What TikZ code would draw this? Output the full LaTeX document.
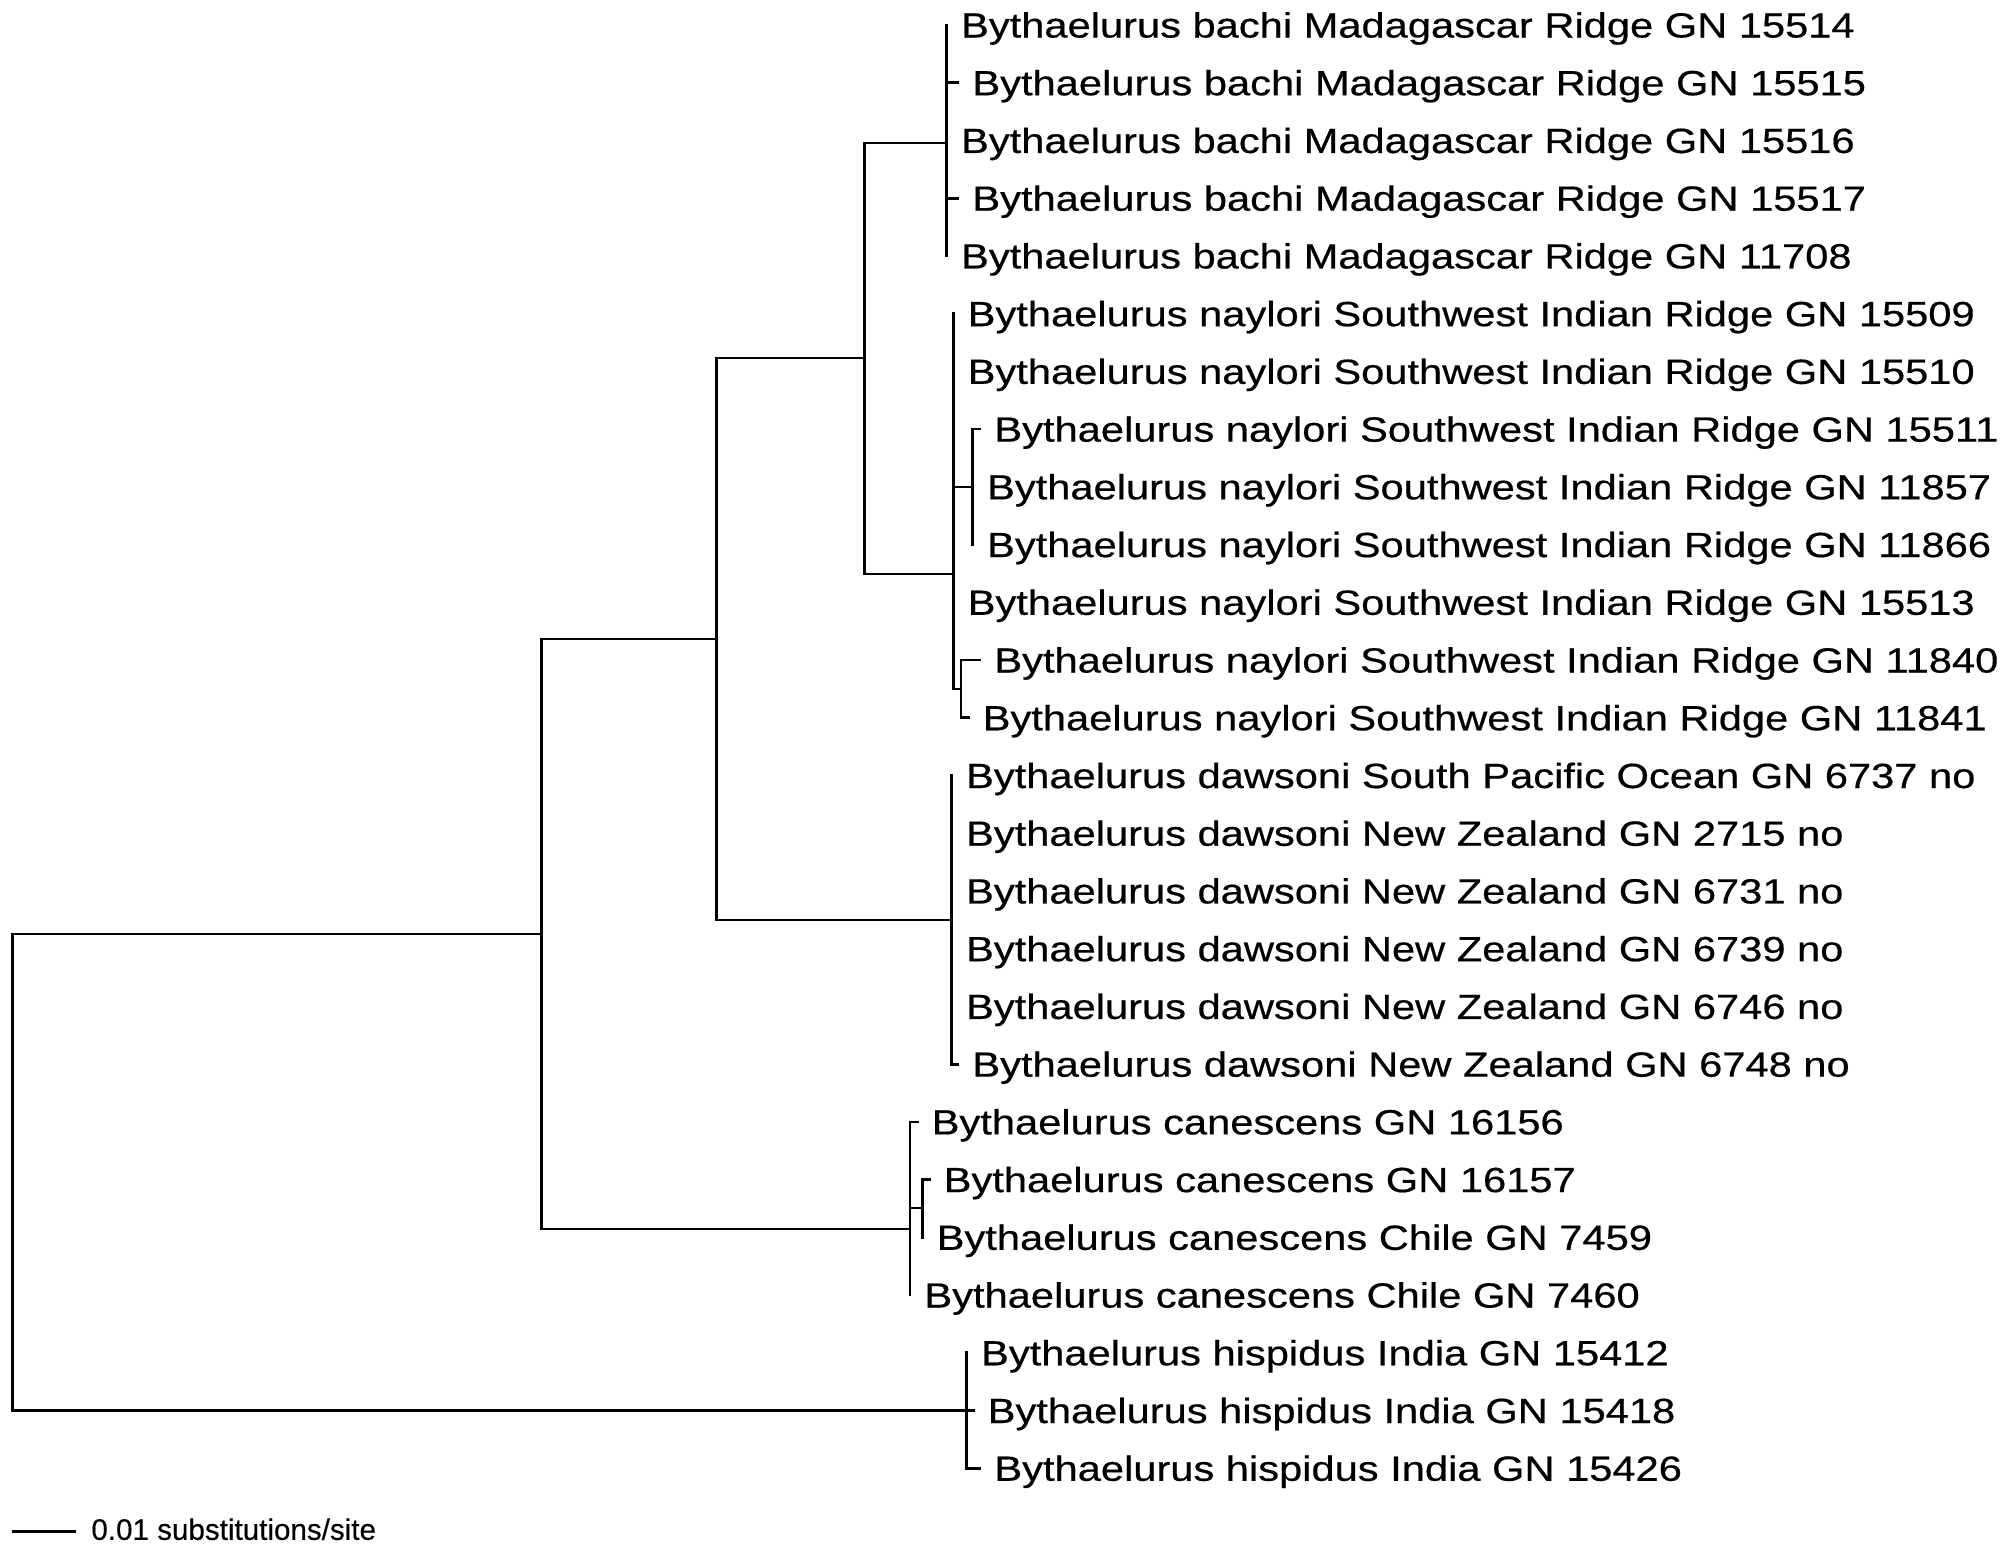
\documentclass[tikz,border=0pt]{standalone}
\usepackage{fontspec}
\newfontfamily\labfam{Liberation Sans}[FakeStretch=1.19,FakeBold=0.5]
\newfontfamily\barfam{Liberation Sans}[FakeBold=0.4]
\begin{document}
\begin{tikzpicture}[x=0.5pt,y=-0.5pt,
  branch/.style={line width=1.35pt,line cap=rect,line join=miter,black},
  tiplabel/.style={anchor=base west,inner sep=0pt,xshift=7pt,yshift=-6.25pt,
    font=\labfam\fontsize{17.5pt}{20pt}\selectfont},
  barlabel/.style={anchor=base west,inner sep=0pt,xshift=7.5pt,yshift=-4.05pt,
    font=\barfam\fontsize{14.8pt}{17pt}\selectfont}]
\useasboundingbox[fill=white] (0,0) rectangle (2008,1549);
% internal nodes
\coordinate (root) at (12.7,934);
\coordinate (A) at (541.7,934);
\coordinate (B) at (716.7,639);
\coordinate (C) at (864.5,358);
\coordinate (Ba) at (946.7,143);
\coordinate (Na) at (953.3,574);
\coordinate (ns1) at (972.7,{25+57.73*8});
\coordinate (ns2) at (961,689);
\coordinate (Da) at (951.7,920);
\coordinate (Ca) at (910,1229);
\coordinate (cs) at (922.3,1208);
\coordinate (Hi) at (966.7,{25+57.73*24});
% tips
\coordinate (t0) at (946.7,{25+57.73*0});
\coordinate (t1) at (958,{25+57.73*1});
\coordinate (t2) at (946.7,{25+57.73*2});
\coordinate (t3) at (958,{25+57.73*3});
\coordinate (t4) at (946.7,{25+57.73*4});
\coordinate (t5) at (953.3,{25+57.73*5});
\coordinate (t6) at (953.3,{25+57.73*6});
\coordinate (t7) at (980,{25+57.73*7});
\coordinate (t8) at (972.7,{25+57.73*8});
\coordinate (t9) at (972.7,{25+57.73*9});
\coordinate (t10) at (953.3,{25+57.73*10});
\coordinate (t11) at (980,{25+57.73*11});
\coordinate (t12) at (968.3,{25+57.73*12});
\coordinate (t13) at (951.7,{25+57.73*13});
\coordinate (t14) at (951.7,{25+57.73*14});
\coordinate (t15) at (951.7,{25+57.73*15});
\coordinate (t16) at (951.7,{25+57.73*16});
\coordinate (t17) at (951.7,{25+57.73*17});
\coordinate (t18) at (958,{25+57.73*18});
\coordinate (t19) at (917.3,{25+57.73*19});
\coordinate (t20) at (929.3,{25+57.73*20});
\coordinate (t21) at (922.3,{25+57.73*21});
\coordinate (t22) at (910,{25+57.73*22});
\coordinate (t23) at (966.7,{25+57.73*23});
\coordinate (t24) at (973.3,{25+57.73*24});
\coordinate (t25) at (980,{25+57.73*25});
% branches
\draw[branch] (root) |- (A);
\draw[branch] (root) |- (Hi);
\draw[branch] (A) |- (B);
\draw[branch] (A) |- (Ca);
\draw[branch] (B) |- (C);
\draw[branch] (B) |- (Da);
\draw[branch] (C) |- (Ba);
\draw[branch] (C) |- (Na);
\foreach \t in {t0,t1,t2,t3,t4} \draw[branch] (Ba) |- (\t);
\foreach \t in {t5,t6,ns1,t10,ns2} \draw[branch] (Na) |- (\t);
\foreach \t in {t7,t8,t9} \draw[branch] (ns1) |- (\t);
\foreach \t in {t11,t12} \draw[branch] (ns2) |- (\t);
\foreach \t in {t13,t14,t15,t16,t17,t18} \draw[branch] (Da) |- (\t);
\foreach \t in {t19,cs,t22} \draw[branch] (Ca) |- (\t);
\foreach \t in {t20,t21} \draw[branch] (cs) |- (\t);
\foreach \t in {t23,t24,t25} \draw[branch] (Hi) |- (\t);
% labels
\node[tiplabel] (L0) at (t0) {Bythaelurus bachi Madagascar Ridge GN 15514};
\node[tiplabel] (L1) at (t1) {Bythaelurus bachi Madagascar Ridge GN 15515};
\node[tiplabel] (L2) at (t2) {Bythaelurus bachi Madagascar Ridge GN 15516};
\node[tiplabel] (L3) at (t3) {Bythaelurus bachi Madagascar Ridge GN 15517};
\node[tiplabel] (L4) at (t4) {Bythaelurus bachi Madagascar Ridge GN 11708};
\node[tiplabel] (L5) at (t5) {Bythaelurus naylori Southwest Indian Ridge GN 15509};
\node[tiplabel] (L6) at (t6) {Bythaelurus naylori Southwest Indian Ridge GN 15510};
\node[tiplabel] (L7) at (t7) {Bythaelurus naylori Southwest Indian Ridge GN 15511};
\node[tiplabel] (L8) at (t8) {Bythaelurus naylori Southwest Indian Ridge GN 11857};
\node[tiplabel] (L9) at (t9) {Bythaelurus naylori Southwest Indian Ridge GN 11866};
\node[tiplabel] (L10) at (t10) {Bythaelurus naylori Southwest Indian Ridge GN 15513};
\node[tiplabel] (L11) at (t11) {Bythaelurus naylori Southwest Indian Ridge GN 11840};
\node[tiplabel] (L12) at (t12) {Bythaelurus naylori Southwest Indian Ridge GN 11841};
\node[tiplabel] (L13) at (t13) {Bythaelurus dawsoni South Pacific Ocean GN 6737 no};
\node[tiplabel] (L14) at (t14) {Bythaelurus dawsoni New Zealand GN 2715 no};
\node[tiplabel] (L15) at (t15) {Bythaelurus dawsoni New Zealand GN 6731 no};
\node[tiplabel] (L16) at (t16) {Bythaelurus dawsoni New Zealand GN 6739 no};
\node[tiplabel] (L17) at (t17) {Bythaelurus dawsoni New Zealand GN 6746 no};
\node[tiplabel] (L18) at (t18) {Bythaelurus dawsoni New Zealand GN 6748 no};
\node[tiplabel] (L19) at (t19) {Bythaelurus canescens GN 16156};
\node[tiplabel] (L20) at (t20) {Bythaelurus canescens GN 16157};
\node[tiplabel] (L21) at (t21) {Bythaelurus canescens Chile GN 7459};
\node[tiplabel] (L22) at (t22) {Bythaelurus canescens Chile GN 7460};
\node[tiplabel] (L23) at (t23) {Bythaelurus hispidus India GN 15412};
\node[tiplabel] (L24) at (t24) {Bythaelurus hispidus India GN 15418};
\node[tiplabel] (L25) at (t25) {Bythaelurus hispidus India GN 15426};
% scale bar
\coordinate (sb1) at (11.7,1531.7);
\coordinate (sb2) at (76,1531.7);
\draw[branch,line cap=butt] (sb1) -- (sb2);
\node[barlabel] (sbl) at (sb2) {0.01 substitutions/site};
\end{tikzpicture}
\end{document}
